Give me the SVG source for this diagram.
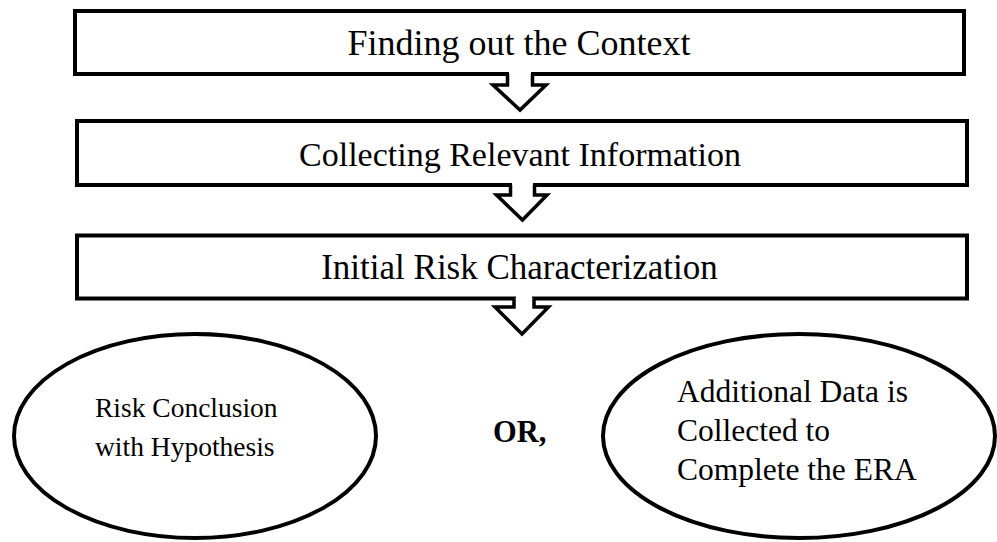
<svg xmlns="http://www.w3.org/2000/svg" width="997" height="542" viewBox="0 0 997 542">
<style>
.box{fill:#fff;stroke:#000;stroke-width:4}
.arr{fill:#fff;stroke:#000;stroke-width:3.5;stroke-linejoin:miter}
.ell{fill:#fff;stroke:#000;stroke-width:4}
.t{font-family:"Liberation Serif","Times New Roman",serif;fill:#000}
.bt{text-anchor:middle}
</style>
<rect width="997" height="542" fill="#fff"/>
<g id="node1"><rect class="box" x="75" y="11" width="889" height="63"/><text class="t bt" x="519" y="55" style="font-size:36px">Finding out the Context</text></g>
<g id="node2"><rect class="box" x="77" y="121" width="890" height="64"/><text class="t bt" x="520" y="166" style="font-size:34px">Collecting Relevant Information</text></g>
<g id="node3"><rect class="box" x="77" y="235.5" width="890" height="63"/><text class="t bt" x="519.5" y="279" style="font-size:35px">Initial Risk Characterization</text></g>
<g id="node4"><ellipse class="ell" cx="195" cy="436" rx="181" ry="102"/><text class="t" x="95" y="417" style="font-size:27.5px">Risk Conclusion</text><text class="t" x="95" y="456" style="font-size:27.5px">with Hypothesis</text></g>
<g id="node5"><text class="t" x="493" y="442" style="font-size:30.5px;font-weight:bold">OR,</text></g>
<g id="node6"><ellipse class="ell" cx="799" cy="436" rx="196" ry="102"/><text class="t" x="677" y="402" style="font-size:31.5px">Additional Data is</text><text class="t" x="677" y="441" style="font-size:31.5px">Collected to</text><text class="t" x="677" y="480" style="font-size:31.5px">Complete the ERA</text></g>
<g id="connectors">
<rect x="509" y="71" width="22" height="6" fill="#fff"/>
<polyline class="arr" points="507.5,74 507.5,85 493,85 520,110 546,85 532.5,85 532.5,74"/>
<rect x="512" y="182" width="21" height="6" fill="#fff"/>
<polyline class="arr" points="510.5,185 510.5,195 496.5,195 522.5,220 547,195 534.5,195 534.5,185"/>
<rect x="516" y="295.5" width="16" height="6" fill="#fff"/>
<polyline class="arr" points="514,298.5 514,307 495,307 522,334 548.5,307 534,307 534,298.5"/>
</g>
</svg>
